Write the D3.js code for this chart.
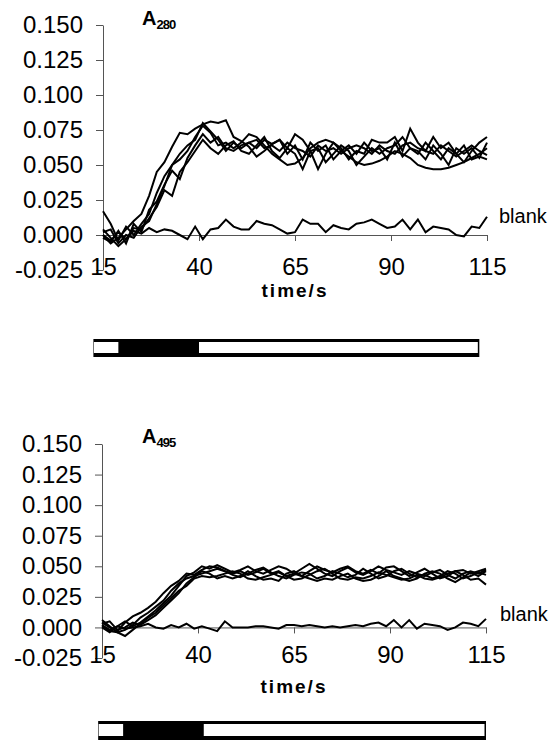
<!DOCTYPE html>
<html>
<head>
<meta charset="utf-8">
<script src="https://cdn.jsdelivr.net/npm/d3@7"></script>
<style>
  body { margin: 0; background: #fff; }
  svg { display: block; font-family: "Liberation Sans", Arial, sans-serif; }
</style>
</head>
<body>
<svg id="chart"></svg>
<script>
const times = [15, 17, 19, 21, 23, 25, 27, 29, 31, 33, 35, 37, 39, 41, 43, 45, 47, 49, 51, 53,
  55, 57, 59, 61, 63, 65, 67, 69, 71, 73, 75, 77, 79, 81, 83, 85, 87, 89, 91, 93,
  95, 97, 99, 101, 103, 105, 107, 109, 111, 113, 115];

const yTicks = [-0.025, 0, 0.025, 0.05, 0.075, 0.1, 0.125, 0.15];
const xTicks = [15, 40, 65, 90, 115];

// A280 traces
const a280Samples = [
  [0.000, -0.006, -0.002, 0.004, 0.010, 0.015, 0.028, 0.045, 0.052, 0.063,
   0.073, 0.072, 0.076, 0.079, 0.081, 0.080, 0.082, 0.070, 0.067, 0.063,
   0.056, 0.060, 0.065, 0.068, 0.062, 0.072, 0.068, 0.060, 0.047, 0.058,
   0.066, 0.062, 0.054, 0.060, 0.058, 0.068, 0.066, 0.066, 0.070, 0.060,
   0.076, 0.066, 0.060, 0.070, 0.062, 0.066, 0.058, 0.052, 0.060, 0.066,
   0.070],
  [0.017, 0.008, -0.004, 0.006, 0.000, 0.008, 0.015, 0.030, 0.042, 0.050,
   0.054, 0.060, 0.070, 0.078, 0.073, 0.064, 0.066, 0.062, 0.066, 0.072,
   0.070, 0.064, 0.058, 0.054, 0.050, 0.051, 0.055, 0.062, 0.066, 0.068,
   0.066, 0.060, 0.056, 0.052, 0.050, 0.051, 0.053, 0.056, 0.060, 0.058,
   0.055, 0.050, 0.048, 0.047, 0.047, 0.048, 0.050, 0.052, 0.055, 0.058,
   0.062],
  [0.004, -0.002, -0.008, -0.003, 0.005, 0.004, 0.012, 0.020, 0.032, 0.028,
   0.045, 0.052, 0.060, 0.068, 0.062, 0.058, 0.064, 0.067, 0.060, 0.058,
   0.064, 0.070, 0.060, 0.055, 0.062, 0.058, 0.047, 0.060, 0.062, 0.052,
   0.058, 0.064, 0.060, 0.050, 0.056, 0.062, 0.058, 0.062, 0.064, 0.070,
   0.062, 0.058, 0.066, 0.060, 0.054, 0.062, 0.058, 0.064, 0.054, 0.056,
   0.054],
  [-0.002, -0.005, 0.003, -0.006, 0.008, 0.002, 0.018, 0.024, 0.036, 0.046,
   0.040, 0.055, 0.064, 0.072, 0.066, 0.070, 0.062, 0.060, 0.064, 0.066,
   0.062, 0.068, 0.065, 0.068, 0.058, 0.064, 0.054, 0.066, 0.060, 0.064,
   0.054, 0.060, 0.064, 0.058, 0.066, 0.060, 0.062, 0.054, 0.066, 0.056,
   0.062, 0.060, 0.054, 0.064, 0.058, 0.050, 0.062, 0.058, 0.062, 0.055,
   0.066],
  [0.002, 0.004, -0.006, 0.000, -0.002, 0.006, 0.010, 0.022, 0.035, 0.050,
   0.058, 0.064, 0.068, 0.080, 0.074, 0.068, 0.060, 0.066, 0.062, 0.066,
   0.068, 0.062, 0.064, 0.060, 0.066, 0.062, 0.060, 0.056, 0.064, 0.060,
   0.062, 0.058, 0.062, 0.064, 0.062, 0.058, 0.064, 0.060, 0.058, 0.064,
   0.066, 0.062, 0.060, 0.058, 0.064, 0.060, 0.056, 0.060, 0.064, 0.060,
   0.057]
];
const a280Blank = [0.000, -0.004, 0.002, -0.003, 0.003, 0.001, 0.005, 0.002, 0.004, 0.003,
  0.000, -0.003, 0.006, -0.003, 0.004, 0.005, 0.011, 0.006, 0.004, 0.004,
  0.010, 0.008, 0.007, 0.004, 0.001, 0.002, 0.011, 0.008, 0.008, 0.002,
  0.007, 0.005, 0.004, 0.008, 0.009, 0.011, 0.008, 0.005, 0.006, 0.011,
  0.004, 0.011, 0.002, 0.006, 0.005, 0.004, 0.000, -0.001, 0.006, 0.005,
  0.013];

// A495 traces
const a495Samples = [
  [0.004, 0.000, -0.003, 0.004, 0.009, 0.012, 0.016, 0.021, 0.028, 0.034,
   0.038, 0.044, 0.043, 0.047, 0.050, 0.049, 0.046, 0.044, 0.046, 0.043,
   0.045, 0.048, 0.044, 0.046, 0.042, 0.044, 0.048, 0.052, 0.048, 0.044,
   0.042, 0.046, 0.049, 0.045, 0.043, 0.046, 0.050, 0.047, 0.045, 0.043,
   0.046, 0.044, 0.042, 0.045, 0.047, 0.043, 0.040, 0.044, 0.046, 0.044,
   0.047],
  [0.006, 0.001, -0.004, -0.002, 0.002, 0.008, 0.012, 0.017, 0.022, 0.030,
   0.036, 0.040, 0.042, 0.044, 0.046, 0.048, 0.046, 0.043, 0.041, 0.044,
   0.047, 0.049, 0.045, 0.042, 0.040, 0.043, 0.045, 0.044, 0.040, 0.042,
   0.046, 0.044, 0.041, 0.043, 0.048, 0.044, 0.040, 0.042, 0.046, 0.048,
   0.044, 0.041, 0.043, 0.040, 0.042, 0.046, 0.044, 0.040, 0.042, 0.045,
   0.043],
  [0.001, -0.003, -0.004, -0.007, -0.002, 0.003, 0.008, 0.012, 0.018, 0.024,
   0.030, 0.034, 0.040, 0.042, 0.041, 0.042, 0.044, 0.046, 0.044, 0.040,
   0.039, 0.041, 0.043, 0.045, 0.042, 0.039, 0.040, 0.043, 0.046, 0.048,
   0.044, 0.040, 0.039, 0.041, 0.040, 0.042, 0.045, 0.043, 0.041, 0.039,
   0.040, 0.043, 0.040, 0.039, 0.041, 0.044, 0.046, 0.043, 0.039, 0.040,
   0.035],
  [0.003, 0.005, -0.002, 0.000, 0.004, 0.002, 0.006, 0.010, 0.016, 0.022,
   0.028, 0.036, 0.041, 0.046, 0.044, 0.040, 0.042, 0.040, 0.042, 0.046,
   0.042, 0.039, 0.040, 0.038, 0.044, 0.046, 0.042, 0.040, 0.038, 0.040,
   0.039, 0.042, 0.044, 0.040, 0.038, 0.039, 0.042, 0.046, 0.042, 0.040,
   0.038, 0.040, 0.044, 0.046, 0.044, 0.040, 0.037, 0.041, 0.045, 0.042,
   0.046],
  [0.000, -0.004, 0.001, 0.005, 0.001, 0.004, 0.009, 0.014, 0.020, 0.026,
   0.034, 0.042, 0.045, 0.050, 0.048, 0.051, 0.048, 0.045, 0.047, 0.050,
   0.046, 0.044, 0.047, 0.050, 0.048, 0.044, 0.042, 0.046, 0.050, 0.047,
   0.045, 0.048, 0.050, 0.046, 0.044, 0.047, 0.044, 0.049, 0.050, 0.046,
   0.042, 0.045, 0.048, 0.044, 0.040, 0.042, 0.046, 0.047, 0.044, 0.046,
   0.048]
];
const a495Blank = [0.002, -0.002, 0.001, -0.001, 0.000, 0.001, 0.003, 0.000, -0.001, 0.002,
  0.000, 0.003, -0.001, 0.001, -0.001, -0.003, 0.005, 0.000, 0.000, 0.000,
  0.001, 0.001, 0.000, -0.001, 0.002, 0.002, 0.001, 0.002, 0.001, 0.000,
  0.001, 0.000, 0.001, 0.002, 0.001, 0.003, 0.004, 0.001, 0.006, 0.000,
  0.006, -0.001, 0.003, 0.002, 0.001, -0.002, 0.000, 0.004, 0.003, 0.001,
  0.007];

// timing bar under each panel: [start, end] and the dark pulse [start, end], in s
const a280Bar = [12.5, 113];
const a280Pulse = [19, 40];
const a495Bar = [14, 115];
const a495Pulse = [20.5, 41.5];

const width = 551;
const height = 740;

const svg = d3.select("#chart").attr("width", width).attr("height", height);
svg.append("rect").attr("width", width).attr("height", height).attr("fill", "#fff");

const drawPanel = (p) => {
  const x = d3.scaleLinear().domain([15, 115]).range(p.xRange);
  const y = d3.scaleLinear().domain([-0.025, 0.15]).range(p.yRange);
  const g = svg.append("g");

  const yAxis = d3.axisLeft(y)
    .tickValues(yTicks)
    .tickSize(7)
    .tickSizeOuter(0)
    .tickPadding(13)
    .tickFormat((d) => d.toFixed(3));

  g.append("g")
    .attr("transform", `translate(${p.xRange[0]},0)`)
    .call(yAxis)
    .call((a) => a.selectAll("path, line").attr("stroke", "#555"))
    .call((a) => a.selectAll("text")
      .attr("font-size", 24)
      .attr("font-family", "Liberation Sans, Arial, sans-serif")
      .attr("fill", "#000"));

  const xAxis = d3.axisBottom(x)
    .tickValues(xTicks)
    .tickSize(6)
    .tickSizeOuter(0)
    .tickFormat(d3.format("d"));

  g.append("g")
    .attr("transform", `translate(0,${y(0)})`)
    .call(xAxis)
    .call((a) => a.selectAll("path, line").attr("stroke", "#555"))
    .call((a) => a.selectAll("text")
      .attr("y", y(-0.025) - y(0) - 2)
      .attr("dy", "0.3em")
      .attr("font-size", 24)
      .attr("font-family", "Liberation Sans, Arial, sans-serif")
      .attr("fill", "#000"));

  g.append("text")
    .attr("x", (p.xRange[0] + p.xRange[1]) / 2)
    .attr("y", p.titleY)
    .attr("text-anchor", "middle")
    .attr("font-size", 19)
    .attr("font-weight", "bold")
    .attr("letter-spacing", 2)
    .text("time/s");

  const line = d3.line()
    .x((d, i) => x(times[i]))
    .y((d) => y(d));

  g.selectAll(".trace")
    .data(p.samples.concat([p.blank]))
    .enter()
    .append("path")
    .attr("class", "trace")
    .attr("d", line)
    .attr("fill", "none")
    .attr("stroke", "#000")
    .attr("stroke-width", 2)
    .attr("stroke-linejoin", "miter");

  g.append("text")
    .attr("x", p.blankX)
    .attr("y", p.blankY)
    .attr("font-size", 20)
    .text("blank");

  const label = g.append("text")
    .attr("x", 142)
    .attr("y", p.labelY)
    .attr("font-weight", "bold")
    .attr("font-size", 20);
  label.append("tspan").text("A");
  label.append("tspan")
    .attr("font-size", 13)
    .attr("letter-spacing", -1)
    .attr("dy", 4)
    .text(p.wavelength);

  // timing bar
  const bx0 = x(p.bar[0]);
  const bx1 = x(p.bar[1]);
  const by0 = p.barY;
  const bh = p.barH;
  g.append("rect")
    .attr("x", bx0).attr("y", by0)
    .attr("width", bx1 - bx0).attr("height", bh)
    .attr("fill", "#000");
  g.append("rect")
    .attr("x", bx0 + 0.5).attr("y", by0 + 3)
    .attr("width", x(p.pulse[0]) - bx0 - 0.5).attr("height", bh - 7)
    .attr("fill", "#fff");
  g.append("rect")
    .attr("x", x(p.pulse[1])).attr("y", by0 + 3)
    .attr("width", bx1 - 1.5 - x(p.pulse[1])).attr("height", bh - 7)
    .attr("fill", "#fff");
};

drawPanel({
  xRange: [103, 487],
  yRange: [270, 25],
  titleY: 297,
  samples: a280Samples,
  blank: a280Blank,
  blankX: 499,
  blankY: 223,
  labelY: 25,
  wavelength: "280",
  bar: a280Bar,
  pulse: a280Pulse,
  barY: 339,
  barH: 18
});

drawPanel({
  xRange: [102, 486],
  yRange: [658, 444],
  titleY: 693,
  samples: a495Samples,
  blank: a495Blank,
  blankX: 500,
  blankY: 621,
  labelY: 443,
  wavelength: "495",
  bar: a495Bar,
  pulse: a495Pulse,
  barY: 721,
  barH: 19
});
</script>
</body>
</html>
